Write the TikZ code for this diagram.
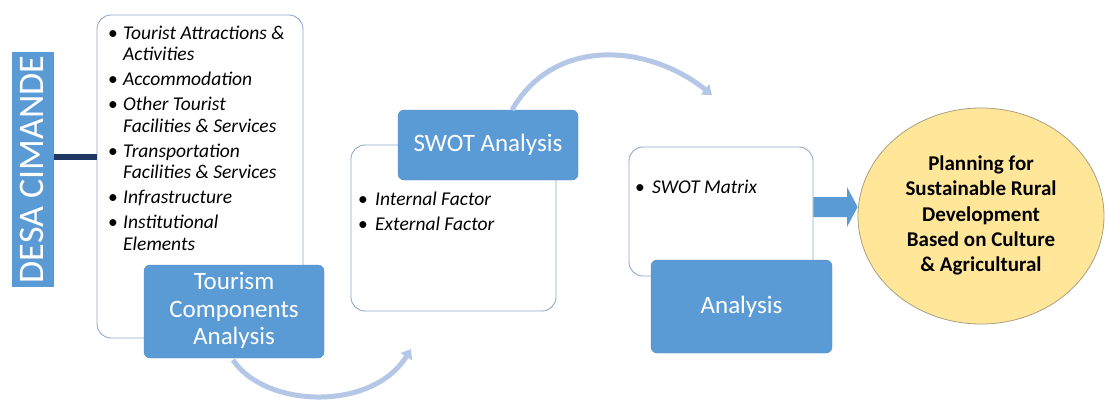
\documentclass[tikz,border=0pt]{standalone}
\usepackage{fontspec}
\setmainfont{Carlito}
\usetikzlibrary{arrows.meta,shapes.geometric}
\definecolor{blu}{HTML}{5B9BD5}
\definecolor{navy}{HTML}{1F3864}
\definecolor{arc}{HTML}{B4C7E7}
\definecolor{edge}{HTML}{8FAACC}
\definecolor{yel}{HTML}{FFE699}
\definecolor{yedge}{HTML}{A8A080}
\tikzset{
  panel/.style={draw=edge, line width=0.9pt, fill=white, rounded corners=14pt, inner sep=0pt},
  bluebox/.style={fill=blu, draw=blu!90!black, line width=0.4pt, rounded corners=6pt, text=white, align=center, inner sep=0pt, font=\fontsize{25}{27.5}\selectfont},
  listtext/.style={anchor=north west, inner sep=0pt, font=\fontsize{19.5}{21.5}\selectfont\itshape},
  curvearrow/.style={draw=arc, line width=5pt, -{Triangle[length=9pt,width=13pt]}},
}
\begin{document}
\begin{tikzpicture}[x=1pt,y=-1pt]
\useasboundingbox (0,0) rectangle (1105,402);
% left title
\node[fill=blu, minimum width=42pt, minimum height=235pt, inner sep=0pt] (desa) at (33,169.5) {};
\node[rotate=90, text=white, inner sep=0pt, font=\fontsize{36}{40}\selectfont] (desat) at (32,169.5) {DESA CIMANDE};
% panel 1
\node[panel, minimum width=206pt, minimum height=323pt] (box1) at (200,176.5) {};
\draw[navy, line width=6pt] (desa.east |- 0,157) -- (box1.west |- 0,157);
\node[listtext] (list1) at (108,24) {\begin{tabular}{@{}p{15pt}@{}l@{}}
\upshape\textbullet & Tourist Attractions \&\\
 & Activities\\[3.5pt]
\upshape\textbullet & Accommodation\\[3.5pt]
\upshape\textbullet & Other Tourist\\
 & Facilities \& Services\\[3.5pt]
\upshape\textbullet & Transportation\\
 & Facilities \& Services\\[3.5pt]
\upshape\textbullet & Infrastructure\\[3.5pt]
\upshape\textbullet & Institutional\\
 & Elements
\end{tabular}};
\node[bluebox, minimum width=180pt, minimum height=93pt] (comp) at (234,311.5) {\raisebox{-2pt}{\begin{tabular}{@{}c@{}}Tourism\\Components\\Analysis\end{tabular}}};
% panel 2
\node[panel, minimum width=205pt, minimum height=166pt] (box2) at (453.5,228) {};
\node[bluebox, minimum width=180pt, minimum height=70pt] (swot) at (488,145) {SWOT Analysis};
\node[listtext, font=\fontsize{19.5}{25}\selectfont\itshape] (list2) at (358,188) {\begin{tabular}{@{}p{17pt}@{}l@{}}
\upshape\textbullet & Internal Factor\\
\upshape\textbullet & External Factor
\end{tabular}};
% panel 3
\node[panel, minimum width=184pt, minimum height=129pt] (box3) at (721,211.5) {};
\node[listtext] (list3) at (635,178) {\begin{tabular}{@{}p{17pt}@{}l@{}}
\upshape\textbullet & SWOT Matrix
\end{tabular}};
\node[bluebox, minimum width=181pt, minimum height=93pt] (ana) at (741.5,306.5) {Analysis};
% goal ellipse
\node[ellipse, fill=yel, draw=yedge, line width=0.8pt, minimum width=246pt, minimum height=216pt, inner sep=0pt, align=center, font=\fontsize{21}{25.3}\selectfont\bfseries] (plan) at (981,216) {\raisebox{-2pt}{\begin{tabular}{@{}c@{}}Planning for\\Sustainable Rural\\Development\\Based on Culture\\\& Agricultural\end{tabular}}};
% block arrow
\fill[blu] (box3.east |- 0,197) -- (847,197) -- (847,187) -- (plan.west |- 0,207) -- (847,227) -- (847,217) -- (box3.east |- 0,217) -- cycle;
% curved arrows
\coordinate (b1) at (233,360);
\coordinate (b2) at (411,349);
\draw[curvearrow] (b1) .. controls (265,408) and (372,412) .. (b2);
\coordinate (t1) at (512,110);
\coordinate (t2) at (712,95);
\draw[curvearrow] (t1) .. controls (555,35) and (650,45) .. (t2);
\end{tikzpicture}
\end{document}
